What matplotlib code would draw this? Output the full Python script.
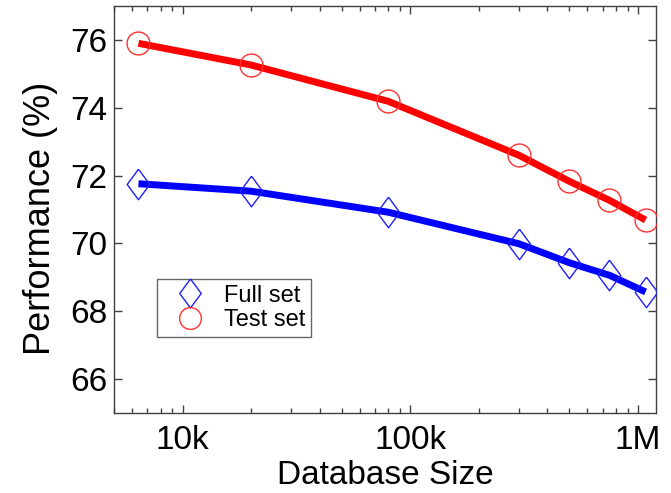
import matplotlib
matplotlib.use("Agg")
import matplotlib.pyplot as plt
from matplotlib.ticker import FixedLocator, FixedFormatter, LogLocator, NullFormatter

# database sizes (log x axis)
db_size = [6400, 20000, 80000, 300000, 500000, 750000, 1080000]
full_set = [71.76, 71.54, 70.92, 69.99, 69.43, 69.06, 68.57]
test_set = [75.90, 75.26, 74.19, 72.60, 71.83, 71.27, 70.69]

x_ticks = [1e4, 1e5, 1e6]
x_tick_labels = ["10k", "100k", "1M"]
y_ticks = [66, 68, 70, 72, 74, 76]

plt.rcParams["font.family"] = ["Liberation Sans", "DejaVu Sans"]

fig = plt.figure(figsize=(6.71, 4.93), dpi=100)
ax = fig.add_axes([0.170, 0.1623, 0.8076, 0.8255])

# thin, tall diamond as drawn in the original
diamond = [(0, 1), (0.74, 0), (0, -1), (-0.74, 0), (0, 1)]

ax.plot(db_size, test_set, color="#ff0000", linewidth=5, solid_capstyle="butt", zorder=2)
ax.plot(db_size, full_set, color="#0000ff", linewidth=5, solid_capstyle="butt", zorder=2)
ax.plot(db_size, full_set, linestyle="none", marker=diamond, markersize=22,
        markerfacecolor="none", markeredgecolor="#2020ff", markeredgewidth=1.0,
        label="Full set", zorder=3)
ax.plot(db_size, test_set, linestyle="none", marker="o", markersize=16.5,
        markerfacecolor="none", markeredgecolor="#ff3030", markeredgewidth=1.0,
        label="Test set", zorder=3)

ax.set_xscale("log")
ax.set_xlim(5000, 1.2e6)
ax.set_ylim(65, 77)
ax.xaxis.set_major_locator(FixedLocator(x_ticks))
ax.xaxis.set_major_formatter(FixedFormatter(x_tick_labels))
ax.xaxis.set_minor_locator(LogLocator(base=10, subs=range(2, 10)))
ax.xaxis.set_minor_formatter(NullFormatter())
ax.set_yticks(y_ticks)

ax.tick_params(which="both", direction="in", top=True, right=True,
               color="#404040", labelsize=24)
ax.tick_params(axis="y", pad=5)
ax.tick_params(axis="x", pad=8.5)
ax.tick_params(which="major", length=6, width=1)
ax.tick_params(which="minor", length=3.5, width=1)
for s in ax.spines.values():
    s.set_color("#404040")
    s.set_linewidth(1)

ax.set_xlabel("Database Size", fontsize=24, labelpad=3)
ax.set_ylabel("Performance (%)", fontsize=26)
ax.yaxis.set_label_coords(-0.104, 0.479)

leg = ax.legend(loc="lower left", bbox_to_anchor=(0.079, 0.187), borderaxespad=0,
                fontsize=17, frameon=True, fancybox=False, edgecolor="#404040",
                handlelength=2.3, handletextpad=0.28, borderpad=0.25, labelspacing=0.1,
                markerscale=0.95)
leg.get_frame().set_linewidth(1)

fig.savefig("out.png", dpi=100)
